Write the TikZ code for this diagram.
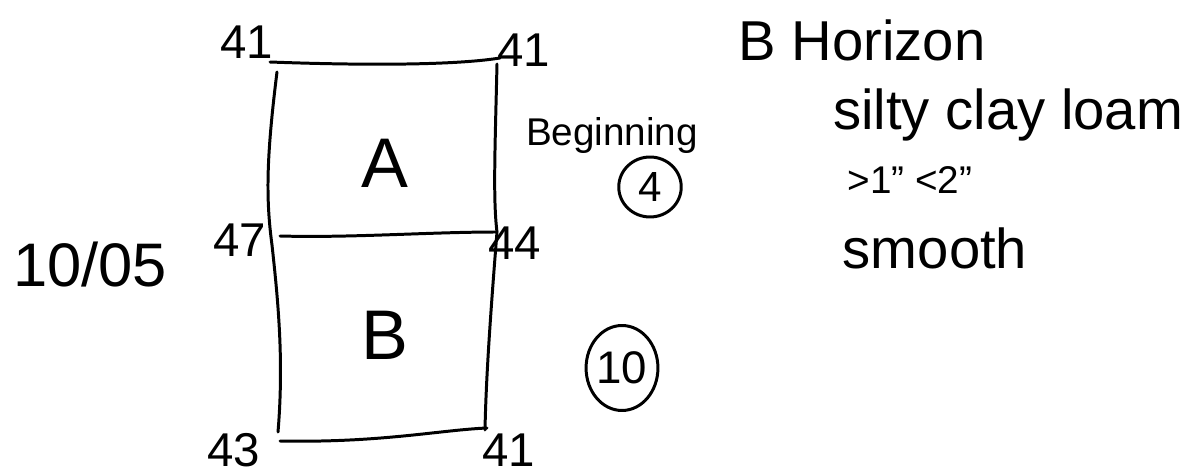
\documentclass[tikz,border=0pt]{standalone}
\usepackage{fontspec}
\setmainfont{Liberation Sans}
\usetikzlibrary{shapes.geometric}
\begin{document}
\begin{tikzpicture}[x=0.02cm,y=-0.02cm,
  ink/.style={line width=1.7pt, line cap=round, line join=round},
  num/.style={inner sep=0pt, font=\fontsize{27}{29}\selectfont},
  big/.style={inner sep=0pt, font=\fontsize{40}{42}\selectfont},
  note/.style={inner sep=0pt, font=\fontsize{32}{34}\selectfont},
  ring/.style={ink, draw, ellipse, inner sep=0pt}]
\path[use as bounding box, fill=white] (0,0) rectangle (1204,476);
% corners of the profile box
\coordinate (tl) at (270,62);
\coordinate (tr) at (500,58);
\coordinate (ltop) at (277,72);
\coordinate (ml) at (280,236);
\coordinate (mr) at (497,232);
\coordinate (lb) at (278,432);
\coordinate (rt) at (497,64);
\coordinate (rb) at (485,430);
\coordinate (bl) at (280,441);
\coordinate (br) at (487,428);
\draw[ink] (tl) .. controls (350,65) and (450,66) .. (tr);
\draw[ink] (ltop) .. controls (266,160) and (266,200) .. (272,245) .. controls (278,300) and (284,360) .. (lb);
\draw[ink] (rt) .. controls (495,150) and (493,200) .. (mr) .. controls (490,320) and (486,380) .. (rb);
\draw[ink] (ml) .. controls (350,238) and (430,232) .. (mr);
\draw[ink] (bl) .. controls (380,443) and (440,430) .. (br);
% depth labels
\node[num] (n41a) at (247,42) {41};
\node[num] (n41b) at (524,50) {41};
\node[num] (n47) at (240,240) {47};
\node[num] (n44) at (515,243) {44};
\node[num] (n43) at (234,450) {43};
\node[num] (n41c) at (509,450) {41};
% horizons
\node[big] (hA) at (385,163) {A};
\node[big] (hB) at (385,335) {B};
% notes
\node[inner sep=0pt, font=\fontsize{35}{37}\selectfont] (date) at (90,265) {10/05};
\node[inner sep=0pt, font=\fontsize{22}{24}\selectfont] (begin) at (612,136) {Beginning};
\node[ring, minimum width=1.25cm, minimum height=1.2cm, font=\fontsize{24}{26}\selectfont] (c4) at (650,187) {4};
\node[ring, minimum width=1.1cm, minimum height=1.7cm, font=\fontsize{26}{28}\selectfont] (c10) at (622,368) {10};
\node[note] (horizon) at (862,40) {B Horizon};
\node[note] (silty) at (1008,115) {silty clay loam};
\node[inner sep=0pt, font=\fontsize{22}{24}\selectfont] (meas) at (910,180) {>1" <2"};
\node[note] (smooth) at (935,248) {smooth};
\end{tikzpicture}
\end{document}
